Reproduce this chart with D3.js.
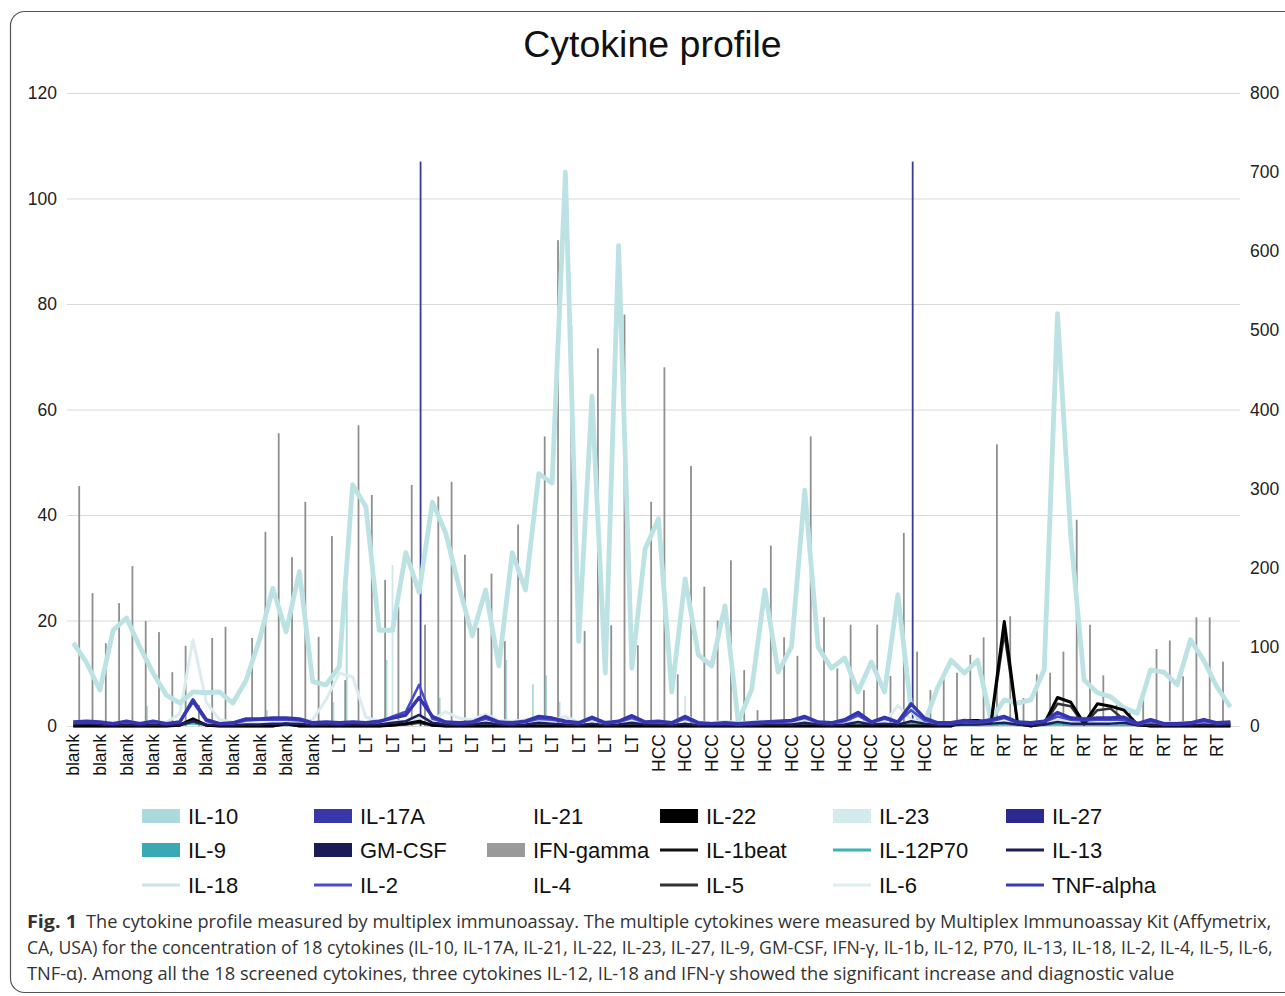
<!DOCTYPE html>
<html><head><meta charset="utf-8">
<script src="https://cdn.jsdelivr.net/npm/d3@7"></script>
<style>
html,body{margin:0;padding:0;background:#fff;}
text{font-family:"Liberation Sans",Arial,sans-serif;}
</style>
</head><body>
<svg id="chart" width="1285" height="996"></svg>
<script>
// ---------- DATA ----------
const title = "Cytokine profile";
const groupNames = ["blank", "LT", "HCC", "RT"];
const groupSizes = [20, 24, 22, 22];
const leftTicks = [0, 20, 40, 60, 80, 100, 120];
const rightTicks = [0, 100, 200, 300, 400, 500, 600, 700, 800];

// Bar series (left axis)
const IFN_gamma = [45.5,25.2,15.7,23.3,30.3,19.9,17.8,10.2,15.2,4,
  16.7,18.8,1,16.7,36.8,55.5,32,42.5,16.9,36,
  8.7,57,43.8,27.7,22.6,45.7,19.2,43.5,46.3,32.5,
  18.6,28.9,16.1,38.2,0,54.9,92.1,75.9,18,71.6,
  19.1,78,15.3,42.5,68,9.8,49.3,26.4,20,31.4,
  10.6,3,34.2,16.8,13.3,54.9,20.6,10.9,19.2,6.8,
  19.2,9.5,36.6,14.1,6.8,9.2,10.1,13.5,16.8,53.4,
  20.8,5.3,9.8,10.1,14.1,39.1,19.2,9.6,4,3,
  6.2,14.6,16.2,9.4,20.6,20.6,12.2,0];
const IL_10 = [0,0,0,0,0,0,3.8,0,0,0, 0,0,0,0,0,3,0,0,0,0,
  4.5,25.8,0,0,12.5,0,0,0,5.3,0, 0,0,0,12.5,0,7.9,9.6,4.6,0,0,
  0,0,0,0,0,0,0,0,0,0, 0,0,0,0,0,0,0,0,0,0,
  0,0,0,0,0,0,0,0,0,0, 0,0,0,0,0,0,0,0,0,0,
  0,0,0,0,0,0,0,0];
const IL_23 = [0,0,0,0,0,0,0,0,0,0, 0,0,0,0,0,0,0,0,0,0,
  0,0,0,0,30.5,0,0,0,0,0, 0,0,0,0,0,0,0,0,0,0,
  0,0,0,0,0,0,5.7,0,0,0, 3,0,0,0,0,0,0,0,0,0,
  0,0,0,0,0,0,0,0,0,0, 0,0,0,0,0,0,0,0,0,0,
  0,0,0,0,0,0,0,0];
const IL_27 = [0,0,0,0,0,0,0,0,0,0, 0,0,0,0,0,0,0,0,0,0,
  0,0,0,0,0,0,107,0,0,0, 0,0,0,0,0,0,0,0,0,0,
  0,0,0,0,0,0,0,0,0,0, 0,0,0,0,0,0,0,0,0,0,
  0,0,0,107,0,0,0,0,0,0, 0,0,0,0,0,0,0,0,0,0,
  0,0,0,0,0,0,0,0];

// Line series (right axis)
const IL_18 = [105,80,45.5,121,136.5,100,67,39,29,43,
  42,43,29,58,109,174,119,195,56,52,
  75,305,277,121,121,219,169,283,244,176,
  114,172,76,219,172,319,307,700,107,417,
  67,607,73,224,262,43,186,90,76,152,
  5,46,172,68,100,298,100,73,86,43,
  81,43,166,20,4,49,83,67,83,8,
  33,29,33,71,521,239,58,42,37,23,
  16,71,68,52,109,83,49,24];
const IL_6 = [6,5,4,4,5,4,4,5,15,109, 30,8,5,4,5,5,6,6,8,33,
  67,62,11,6,5,6,10,8,18,10, 8,15,7,6,8,6,7,12,5,8, 6,5,7,5,
  5,4,13,5,4,6,4,5,6,5, 4,6,4,4,5,5,5,4,26,8,4,4,
  4,5,5,4,5,5,4,5,8,6, 5,6,5,5,4,4,4,4,4,5,4,4];
const TNF_alpha = [5,6,5,3,6,3,6,3,5,33, 8,3,4,9,9,10,10,9,4,5,
  4,5,4,6,10,14,36,12,5,4, 5,12,5,4,6,12,10,6,4,11, 4,6,13,5,
  6,4,12,4,3,4,3,4,5,6, 7,12,5,4,8,17,5,11,5,28,10,4,
  4,7,5,8,12,5,4,6,17,10, 9,10,10,11,3,8,3,3,4,8,4,5];
const IL_2 = [4,5,4,3,5,3,5,3,5,30, 6,3,3,7,8,8,8,7,3,4,
  3,5,4,5,12,18,52,9,4,3, 4,9,4,3,5,9,8,5,3,9, 3,5,10,4,
  5,3,9,3,3,3,2,3,4,5, 6,10,4,3,6,13,4,9,4,20,7,3,
  3,5,4,6,10,4,3,5,12,8, 7,8,8,8,2,6,2,2,3,6,3,4];
const IL_13 = [2,3,2,1,2,1,2,1,2,6, 2,1,1,2,2,3,3,3,1,2,
  1,2,2,2,4,6,14,4,2,1, 2,4,2,1,2,4,3,2,1,3, 1,2,4,2,
  2,1,3,1,1,1,1,1,2,2, 2,4,2,1,2,5,2,3,2,6,3,1,
  1,2,2,3,4,2,1,2,5,3, 3,3,3,4,1,2,1,1,1,2,1,2];
const IL_1beat = [0,0,0,0,0,0,0,0,1,9, 1,0,0,0,0,0,3,0,0,0,
  0,0,0,0,1,3,6,1,0,0, 0,0,0,0,0,0,0,0,0,0, 0,0,0,0,
  0,0,0,0,0,0,0,0,0,0, 0,0,0,0,0,0,0,0,0,0,0,0,
  0,7,7,4,132,3,0,3,36,30, 3,28,25,20,2,0,0,0,0,0,0,0];
const IL_5 = [0,0,0,0,0,0,0,0,1,6, 1,0,0,0,0,0,2,0,0,0,
  0,0,0,0,1,2,4,1,0,0, 0,0,0,0,0,0,0,0,0,0, 0,0,0,0,
  0,0,0,0,0,0,0,0,0,0, 0,0,0,0,0,0,0,0,0,0,0,0,
  0,5,5,3,118,2,0,2,28,25, 2,20,22,8,1,0,0,0,0,0,0,0];
const IL_12P70 = [1,1,1,1,1,1,1,1,1,3, 1,1,1,1,1,1,1,1,1,1,
  1,1,1,1,2,2,4,2,1,1, 1,2,1,1,1,2,1,1,1,1, 1,1,2,1,
  1,1,2,1,1,1,1,1,1,1, 1,2,1,1,1,2,1,1,1,3,1,1,
  1,1,1,1,2,1,1,1,2,1, 1,1,1,1,1,1,1,1,1,1,1,1];

const legendNames = ["IL-10","IL-17A","IL-21","IL-22","IL-23","IL-27",
  "IL-9","GM-CSF","IFN-gamma","IL-1beat","IL-12P70","IL-13",
  "IL-18","IL-2","IL-4","IL-5","IL-6","TNF-alpha"];
const legendTypes = ["bar","bar","bar","bar","bar","bar",
  "bar","bar","bar","line","line","line",
  "line","line","line","line","line","line"];
const legendColors = ["#acd9dc","#3838a8","#ffffff","#000000","#d4ebee","#2b2b8f",
  "#3aa9b3","#1b1b55","#9a9a9a","#111111","#3fb3b3","#1e1e5a",
  "#c9e5e7","#4b4bd0","#ffffff","#333333","#e0eef0","#3a3ab4"];

const captionBold = "Fig. 1";
const captionLines = [
  "The cytokine profile measured by multiplex immunoassay. The multiple cytokines were measured by Multiplex Immunoassay Kit (Affymetrix,",
  "CA, USA) for the concentration of 18 cytokines (IL-10, IL-17A, IL-21, IL-22, IL-23, IL-27, IL-9, GM-CSF, IFN-\u03b3, IL-1b, IL-12, P70, IL-13, IL-18, IL-2, IL-4, IL-5, IL-6,",
  "TNF-\u03b1). Among all the 18 screened cytokines, three cytokines IL-12, IL-18 and IFN-\u03b3 showed the significant increase and diagnostic value"
];

// ---------- BUILD ----------
const categories = [];
groupNames.forEach((g, gi) => { for (let k = 0; k < groupSizes[gi]; k++) categories.push(g); });
const idx = categories.map((d, i) => i);

const svg = d3.select("#chart");
svg.append("rect").attr("x", 10.5).attr("y", 11.5).attr("width", 1300).attr("height", 981)
  .attr("rx", 14).attr("fill", "#fff").attr("stroke", "#555").attr("stroke-width", 1.2);

const x = d3.scaleBand().domain(idx).range([66.65, 1237.05]).padding(0);
const yL = d3.scaleLinear().domain([0, 120]).range([726, 93]);
const yR = d3.scaleLinear().domain([0, 800]).range([726, 93]);
const cx = i => x(i) + x.bandwidth() / 2;

// gridlines
svg.append("g").attr("transform", "translate(67,0)")
  .call(d3.axisLeft(yL).tickValues(leftTicks).tickSize(-1173).tickFormat(""))
  .call(g => g.select(".domain").remove())
  .call(g => g.selectAll("line").attr("stroke", "#d9d9d9").attr("stroke-width", 1));

// left axis labels
svg.append("g").attr("transform", "translate(57,0)")
  .call(d3.axisLeft(yL).tickValues(leftTicks).tickSize(0).tickPadding(0))
  .call(g => g.select(".domain").remove())
  .call(g => g.selectAll("text").attr("font-size", 17.5).attr("fill", "#222")
    .attr("font-family", "Liberation Sans, Arial, sans-serif"));

// right axis labels
svg.append("g").attr("transform", "translate(1250,0)")
  .call(d3.axisRight(yR).tickValues(rightTicks).tickSize(0).tickPadding(0))
  .call(g => g.select(".domain").remove())
  .call(g => g.selectAll("text").attr("font-size", 17.5).attr("fill", "#222")
    .attr("font-family", "Liberation Sans, Arial, sans-serif"));

// x axis labels (every other category)
const xAxisG = svg.append("g").attr("transform", "translate(0,734)")
  .call(d3.axisBottom(x).tickValues(idx.filter(i => i % 2 === 0)).tickSize(0).tickPadding(0)
    .tickFormat(i => categories[i]))
  .call(g => g.select(".domain").remove());
xAxisG.selectAll("text").attr("font-size", 17.5).attr("fill", "#111")
  .attr("font-family", "Liberation Sans, Arial, sans-serif")
  .attr("text-anchor", "end").attr("dy", "0.35em")
  .attr("transform", "rotate(-90)").attr("x", 0).attr("y", 0);
xAxisG.selectAll("g.tick").attr("transform", i => `translate(${cx(i)},0)`);

// bars
const barSeries = [
  {name: "IL-10", values: IL_10, color: "#acd9dc", slot: 0},
  {name: "IL-23", values: IL_23, color: "#cfe7ea", slot: 4},
  {name: "IL-27", values: IL_27, color: "#3b3b95", slot: 5},
  {name: "IFN-gamma", values: IFN_gamma, color: "#8f8f8f", slot: 8}
];
const slot = d3.scaleBand().domain(d3.range(9)).range([-x.bandwidth() / 2, x.bandwidth() / 2]);
const bw = 1.8;
barSeries.forEach(s => {
  svg.append("g").selectAll("rect").data(s.values.map((v, i) => ({v, i})).filter(d => d.v > 0))
    .join("rect")
    .attr("x", d => cx(d.i) + slot(s.slot) + slot.bandwidth() / 2 - bw / 2)
    .attr("width", bw)
    .attr("y", d => yL(d.v))
    .attr("height", d => yL(0) - yL(d.v))
    .attr("fill", s.color);
});

// lines
const lineSeries = [
  {values: IL_6, color: "#dcecee", w: 3},
  {values: IL_18, color: "#bde2e4", w: 4.8},
  {values: IL_12P70, color: "#3fb3b3", w: 2},
  {values: IL_5, color: "#333333", w: 2.5},
  {values: IL_1beat, color: "#000000", w: 3},
  {values: IL_13, color: "#1e1e5a", w: 2.5},
  {values: IL_2, color: "#4b4bd0", w: 2.5},
  {values: TNF_alpha, color: "#3535b0", w: 3.5}
];
const lineGen = d3.line().x((d, i) => cx(i)).y(d => yR(d));
lineSeries.forEach(s => {
  svg.append("path").datum(s.values).attr("d", lineGen)
    .attr("fill", "none").attr("stroke", s.color).attr("stroke-width", s.w)
    .attr("stroke-linejoin", "round");
});

// title
svg.append("text").attr("x", 652.5).attr("y", 57).attr("text-anchor", "middle")
  .attr("font-size", 37.5).attr("fill", "#111").text(title);

// legend
const colX = [142, 314, 487, 660, 833, 1006];
const rowY = [816, 850, 885];
legendNames.forEach((n, k) => {
  const c = k % 6, r = Math.floor(k / 6);
  const g = svg.append("g").attr("transform", `translate(${colX[c]},${rowY[r]})`);
  if (legendTypes[k] === "bar") {
    g.append("rect").attr("x", 0).attr("y", -7).attr("width", 38).attr("height", 14).attr("fill", legendColors[k]);
  } else {
    g.append("line").attr("x1", 0).attr("x2", 38).attr("y1", 0).attr("y2", 0)
      .attr("stroke", legendColors[k]).attr("stroke-width", 3);
  }
  g.append("text").attr("x", 46).attr("y", 0).attr("dy", "0.36em")
    .attr("font-size", 22).attr("fill", "#111").text(n);
});

// caption: fit each line into its target width with a horizontal scale
function fitText(sel, x0, y0, target) {
  sel.attr("x", 0).attr("y", 0);
  const natural = sel.node().getComputedTextLength();
  const k = Math.min(1.2, target / natural);
  sel.attr("transform", `translate(${x0},${y0}) scale(${k},1)`);
}
const capY = [928, 954, 980];
const capFont = "'Open Sans', 'Noto Sans', sans-serif";
const boldT = svg.append("text").attr("font-size", 18.5).attr("font-weight", "bold")
  .attr("fill", "#333").style("font-family", capFont).text(captionBold);
fitText(boldT, 27, capY[0], 50);
const capStart = [86, 27, 27];
const capLen = [1186, 1246, 1148];
captionLines.forEach((t, k) => {
  const tt = svg.append("text").attr("font-size", 18.5).attr("fill", "#333")
    .style("font-family", capFont).text(t);
  fitText(tt, capStart[k], capY[k], capLen[k]);
});
</script>
</body></html>
